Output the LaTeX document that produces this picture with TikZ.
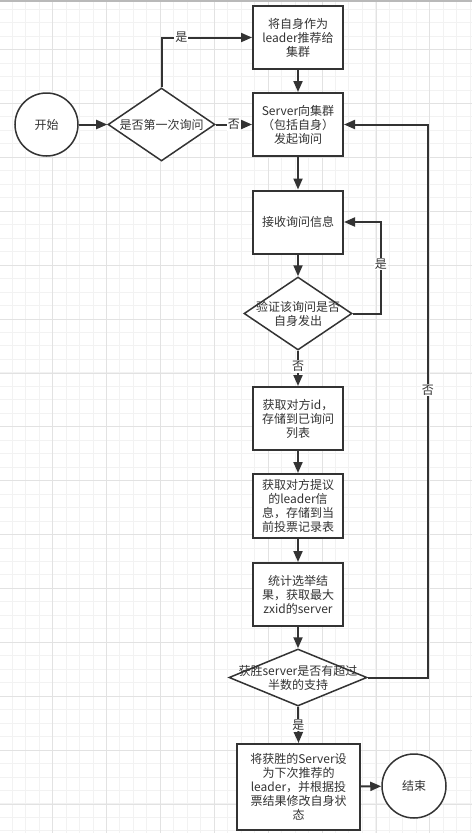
\documentclass[tikz,border=0pt]{standalone}
\usepackage{fontspec}
\setmainfont{Noto Sans CJK SC}
\usetikzlibrary{shapes.geometric,arrows.meta}
\definecolor{linegray}{HTML}{333333}
\definecolor{gridminor}{HTML}{F2F2F2}
\definecolor{gridmajor}{HTML}{E2E2E2}
\begin{document}
\begin{tikzpicture}[x=1pt,y=-1pt,
  >={Triangle[length=11pt,width=9pt]},
  every node/.style={font=\fontsize{12}{14}\selectfont,text=linegray,align=center},
  procbox/.style={draw=linegray,line width=2pt,fill=white,minimum width=90pt,minimum height=63pt,inner sep=0pt},
  decision/.style={diamond,draw=linegray,line width=1.5pt,fill=white,inner sep=0pt},
  terminal/.style={circle,draw=linegray,line width=1.5pt,fill=white,minimum size=63pt,inner sep=0pt},
  conn/.style={draw=linegray,line width=2pt},
  lab/.style={fill=white,inner sep=1pt}]
\useasboundingbox (0,0) rectangle (472,833);
\fill[white] (0,0) rectangle (472,833);
% grid
\foreach \gx in {0,...,34} \draw[gridminor] ({11.9+13.47*\gx},0) -- ++(0,833);
\foreach \gy in {0,...,61} \draw[gridminor] (0,{8.9+13.47*\gy}) -- ++(472,0);
\foreach \gx in {0,...,7} \draw[gridmajor] ({52.3+53.9*\gx},0) -- ++(0,833);
\foreach \gy in {0,...,14} \draw[gridmajor] (0,{49.3+53.9*\gy}) -- ++(472,0);
\draw[gray!55,line width=2pt] (0,1) -- (472,1);

% nodes
\node[terminal] (start) at (46.5,124.5) {开始};
\node[decision,minimum width=107pt,minimum height=73pt,label={center:是否第一次询问}] (q1) at (161.5,124.5) {};
\node[procbox] (recommend) at (298,37.5) {将自身作为\\leader推荐给\\集群};
\node[procbox] (ask) at (298,124.5) {Server向集群\\（包括自身）\\发起询问};
\node[procbox] (receive) at (298,222) {接收询问信息};
\node[decision,minimum width=108pt,minimum height=73pt,label={center:验证该询问是否\\自身发出}] (q2) at (298,313.5) {};
\node[procbox] (getid) at (298,418.5) {获取对方id，\\存储到已询问\\列表};
\node[procbox,minimum height=64pt] (getvote) at (298,506) {获取对方提议\\的leader信\\息，存储到当\\前投票记录表};
\node[procbox] (count) at (298,594.5) {统计选举结\\果，获取最大\\zxid的server};
\node[decision,minimum width=138pt,minimum height=57pt,label={center:获胜server是否有超过\\半数的支持}] (q3) at (298,677.5) {};
\node[procbox,minimum width=123pt,minimum height=86pt] (setstate) at (298.5,787) {将获胜的Server设\\为下次推荐的\\leader，并根据投\\票结果修改自身状\\态};
\node[terminal,minimum size=64pt] (finish) at (414,786) {结束};

% connectors
\draw[conn,->] (start) -- (q1);
\draw[conn,->] (q1.north) |- node[lab,pos=0.61] {是} (recommend.west);
\draw[conn,->] (q1.east) -- node[lab] {否} (ask.west);
\draw[conn,->] (recommend) -- (ask);
\draw[conn,->] (ask) -- (receive);
\draw[conn,->] (receive) -- (q2);
\draw[conn,->] (q2.east) -- ++(28,0) |- node[lab,pos=0.27] {是} (receive.east);
\draw[conn,->] (q2.south) -- node[lab,pos=0.45] {否} (getid.north);
\draw[conn,->] (getid) -- (getvote);
\draw[conn,->] (getvote) -- (count);
\draw[conn,->] (count) -- (q3.north);
\draw[conn,->] (q3.east) -- ++(60,0) |- node[lab,pos=0.26] {否} (ask.east);
\draw[conn,->] (q3.south) -- node[lab] {是} (setstate.north);
\draw[conn,->] (setstate) -- (finish);
\end{tikzpicture}
\end{document}
